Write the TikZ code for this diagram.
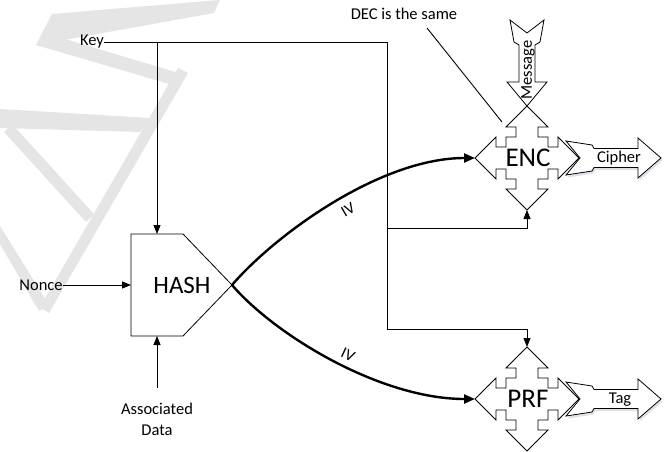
\documentclass[tikz,border=0pt]{standalone}
\usepackage{fontspec}
\setmainfont{Carlito}
\usetikzlibrary{arrows.meta}

% four-way block with stepped shoulders, centred on #1
\newcommand\crossblock[1]{%
  \draw[outline, shift={#1}]
    (0,-52) -- (21,-31) -- (11,-31) -- (11,-21) -- (21,-21) -- (21,-11) -- (31,-11) -- (31,-21)
    -- (52,0) -- (31,21) -- (31,11) -- (21,11) -- (21,21) -- (11,21) -- (11,31) -- (21,31)
    -- (0,52) -- (-21,31) -- (-11,31) -- (-11,21) -- (-21,21) -- (-21,11) -- (-31,11) -- (-31,21)
    -- (-52,0) -- (-31,-21) -- (-31,-11) -- (-21,-11) -- (-21,-21) -- (-11,-21) -- (-11,-31) -- (-21,-31)
    -- cycle;}

% output block arrow whose notched tail wraps the right tip of a block centred on #1
\newcommand\outarrow[1]{%
  \fill[blue!25!black!12, shift={#1}, xshift=1.5pt, yshift=-2.5pt]
    (39,-17) -- (65,-13) -- (67,-9.5) -- (111,-9.5) -- (111,-20) -- (134,0) -- (111,20)
    -- (111,9.5) -- (67,9.5) -- (65,13) -- (39,17) -- (53,0) -- cycle;
  \draw[outline, shift={#1}]
    (39,-17) -- (65,-13) -- (67,-9.5) -- (111,-9.5) -- (111,-20) -- (134,0) -- (111,20)
    -- (111,9.5) -- (67,9.5) -- (65,13) -- (39,17) -- (53,0) -- cycle;}

\begin{document}
\begin{tikzpicture}[x=1pt,y=-1pt,
  wire/.style={line width=0.9pt},
  ivwire/.style={line width=2.4pt},
  tip/.style={-{Triangle[length=9pt,width=7pt]}},
  bigtip/.style={-{Triangle[length=11pt,width=9pt]}},
  outline/.style={draw, line width=0.8pt, fill=white, line join=miter},
  lbl/.style={font=\fontsize{16.5}{21}\selectfont, inner sep=0pt},
  big/.style={font=\fontsize{27}{30}\selectfont, inner sep=0pt},
  ivlbl/.style={font=\fontsize{16}{18}\selectfont, inner sep=0pt},
  wmark/.style={fill=black!10, draw=none}]

\useasboundingbox (0,0) rectangle (672,452);
\fill[white] (0,0) rectangle (672,452);

% pale watermark strokes
\fill[wmark] (36,45) -- (52,14) -- (220,0) -- (214,13) -- cycle;
\fill[wmark] (36,45) -- (45,33) -- (182,74) -- (176,86) -- cycle;
\fill[wmark] (178,68) -- (188,73) -- (49,313) -- (40,307) -- cycle;
\fill[wmark] (0,109) -- (150,118) -- (140,132) -- (0,128) -- cycle;
\fill[wmark] (12,124) -- (94,214) -- (86,222) -- (4,132) -- cycle;
\fill[wmark] (0,226) -- (49,305) -- (39,311) -- (0,244) -- cycle;

% labels
\node[lbl] (key) at (92,42) {Key};
\node[lbl] (nonce) at (41,285) {Nonce};
\node[lbl, align=center] (ad) at (157,419) {Associated\\Data};
\node[lbl] (dec) at (404,14) {DEC is the same};

% HASH block
\draw[outline] (131,234) -- (183,234) -- (232,285) -- (183,336) -- (131,336) -- cycle;
\node[big, font=\fontsize{25}{28}\selectfont] (hash) at (182,285) {HASH};
\coordinate (hash-n) at (157,234);
\coordinate (hash-w) at (131,285);
\coordinate (hash-s) at (157,336);
\coordinate (hash-e) at (232,285);

% Message input arrow into ENC
\draw[outline, shift={(527,158)}]
  (-17,-138) -- (0,-125) -- (17,-138) -- (13,-116) -- (8,-113) -- (8,-76) -- (20,-76)
  -- (0,-52) -- (-20,-76) -- (-8,-76) -- (-8,-113) -- (-13,-116) -- cycle;
\node[lbl, rotate=90] (msg) at (528,70) {Message};

% output arrows
\outarrow{(527,158)}
\outarrow{(527,399)}
\node[lbl] (cipher) at (619,158) {Cipher};
\node[lbl] (tag) at (620,400) {Tag};

% ENC and PRF blocks
\crossblock{(527,158)}
\crossblock{(527,399)}
\node[big] (enc) at (528,158) {ENC};
\node[big] (prf) at (528,399) {PRF};
\coordinate (enc-w) at (475,158);
\coordinate (enc-s) at (527,210);
\coordinate (prf-w) at (475,399);
\coordinate (prf-n) at (527,347);

% key distribution
\coordinate (ktap) at (157,42);
\coordinate (kbend) at (387,42);
\coordinate (encfeed) at (387,228);
\coordinate (encturn) at (527,228);
\coordinate (prffeed) at (387,329);
\coordinate (prfturn) at (527,329);
\draw[wire] (key.east) -- (kbend) -- (prffeed);
\draw[wire, tip] (prffeed) -- (prfturn) -- (prf-n);
\draw[wire, tip] (encfeed) -- (encturn) -- (enc-s);
\draw[wire, tip] (ktap) -- (hash-n);

% other HASH inputs
\draw[wire, tip] (nonce.east) -- (hash-w);
\coordinate (ad-top) at (157,388);
\draw[wire, tip] (ad-top) -- (hash-s);

% IV paths
\draw[ivwire, bigtip] (hash-e) .. controls (275,235) and (380,158) .. (enc-w);
\draw[ivwire, bigtip] (hash-e) .. controls (275,335) and (380,399) .. (prf-w);
\node[ivlbl, rotate=30] (iv1) at (348,210) {IV};
\node[ivlbl, rotate=-25] (iv2) at (348,355) {IV};

% note
\coordinate (dec-from) at (427,28);
\coordinate (dec-to) at (502,122);
\draw[wire] (dec-from) -- (dec-to);
\end{tikzpicture}
\end{document}
